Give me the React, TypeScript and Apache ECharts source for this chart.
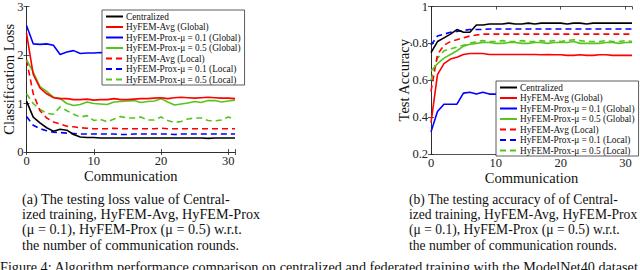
import React, { useEffect, useRef } from "react";
import * as echarts from "echarts";

const rounds = Array.from({ length: 32 }, (_, i) => i);

const seriesNames = [
  "Centralized",
  "HyFEM-Avg (Global)",
  "HyFEM-Prox-μ = 0.1 (Global)",
  "HyFEM-Prox-μ = 0.5 (Global)",
  "HyFEM-Avg (Local)",
  "HyFEM-Prox-μ = 0.1 (Local)",
  "HyFEM-Prox-μ = 0.5 (Local)",
];

const lossCentral = [1.05,0.72,0.6,0.5,0.43,0.47,0.45,0.36,0.31,0.3,0.3,0.29,0.29,0.29,0.29,0.29,0.29,0.29,0.29,0.29,0.29,0.29,0.29,0.29,0.29,0.29,0.29,0.28,0.29,0.29,0.29,0.29];
const lossAvgG = [2.45,1.6,1.32,1.2,1.12,1.1,1.1,1.08,1.08,1.09,1.07,1.08,1.08,1.1,1.08,1.08,1.09,1.1,1.1,1.11,1.12,1.1,1.12,1.13,1.12,1.11,1.12,1.13,1.12,1.11,1.11,1.1];
const lossProx01G = [2.61,2.23,2.22,2.23,2.2,2.01,2.06,2.09,2.03,2.04,2.04,2.05,2.03,2.04,2.03,2.02,2.03,2.02,2.03,2.02,2.02,2.01,2.02,2.01,2.02,2.01,2.01,2.0,2.01,2.0,2.0,2.0];
const lossProx05G = [1.9,1.65,1.35,1.25,1.13,1.1,1.0,0.96,0.98,1.03,1.0,0.99,0.98,1.03,1.04,1.05,1.06,1.02,1.04,1.05,1.1,1.03,0.97,0.99,1.01,1.04,1.02,1.06,1.06,1.03,1.05,1.07];
const lossAvgL = [1.9,1.2,0.85,0.7,0.62,0.58,0.53,0.52,0.5,0.49,0.48,0.48,0.48,0.49,0.48,0.48,0.48,0.48,0.48,0.48,0.49,0.48,0.48,0.48,0.48,0.48,0.48,0.48,0.48,0.48,0.48,0.48];
const lossProx01L = [0.73,0.55,0.48,0.44,0.41,0.4,0.39,0.38,0.37,0.37,0.37,0.37,0.37,0.37,0.36,0.36,0.37,0.37,0.37,0.37,0.37,0.37,0.36,0.37,0.37,0.37,0.37,0.37,0.37,0.37,0.37,0.37];
const lossProx05L = [1.2,1.0,0.88,0.8,0.78,0.93,0.85,0.78,0.72,0.75,0.65,0.67,0.62,0.68,0.73,0.7,0.7,0.72,0.66,0.66,0.72,0.65,0.61,0.63,0.68,0.7,0.7,0.65,0.64,0.66,0.72,0.68];

const accCentral = [0.75,0.81,0.83,0.85,0.875,0.86,0.86,0.9,0.9,0.905,0.905,0.905,0.91,0.905,0.905,0.91,0.905,0.91,0.91,0.91,0.91,0.905,0.91,0.91,0.905,0.91,0.91,0.91,0.91,0.91,0.91,0.91];
const accAvgG = [0.37,0.63,0.69,0.715,0.725,0.74,0.745,0.745,0.745,0.74,0.74,0.74,0.74,0.74,0.74,0.74,0.74,0.738,0.74,0.738,0.738,0.735,0.735,0.738,0.735,0.735,0.738,0.738,0.735,0.735,0.735,0.735];
const accProx01G = [0.32,0.43,0.47,0.47,0.47,0.53,0.535,0.525,0.535,0.525,0.525,0.53,0.53,0.535,0.535,0.535,0.535,0.54,0.54,0.54,0.54,0.54,0.54,0.54,0.545,0.545,0.545,0.545,0.545,0.545,0.545,0.545];
const accProx05G = [0.65,0.69,0.72,0.74,0.76,0.785,0.795,0.8,0.805,0.805,0.8,0.8,0.805,0.805,0.8,0.8,0.805,0.805,0.8,0.805,0.805,0.805,0.81,0.8,0.8,0.8,0.8,0.805,0.805,0.8,0.805,0.805];
const accAvgL = [0.54,0.74,0.79,0.81,0.82,0.83,0.84,0.845,0.85,0.85,0.85,0.85,0.85,0.85,0.85,0.85,0.85,0.85,0.85,0.85,0.85,0.85,0.85,0.85,0.85,0.85,0.85,0.85,0.85,0.85,0.85,0.85];
const accProx01L = [0.79,0.84,0.85,0.86,0.865,0.87,0.875,0.875,0.875,0.878,0.878,0.878,0.878,0.878,0.878,0.878,0.878,0.878,0.878,0.878,0.878,0.878,0.878,0.878,0.878,0.878,0.878,0.878,0.878,0.878,0.878,0.878];
const accProx05L = [0.6,0.72,0.76,0.77,0.78,0.79,0.8,0.81,0.815,0.81,0.81,0.815,0.81,0.81,0.815,0.81,0.81,0.815,0.81,0.815,0.81,0.815,0.82,0.815,0.81,0.81,0.81,0.815,0.81,0.81,0.815,0.81];

const lossTicks = [0, 1, 2, 3];
const accTicks = [0.2, 0.4, 0.6, 0.8, 1];
const roundTicks = [0, 10, 20, 30];

const captionA = [
  "(a) The testing loss value of Central-",
  "ized training, HyFEM-Avg, HyFEM-Prox",
  "(μ = 0.1), HyFEM-Prox (μ = 0.5) w.r.t.",
  "the number of communication rounds.",
];
const captionB = [
  "(b) The testing accuracy of of Central-",
  "ized training, HyFEM-Avg, HyFEM-Prox",
  "(μ = 0.1), HyFEM-Prox (μ = 0.5) w.r.t.",
  "the number of communication rounds.",
];
const figureCaption =
  "Figure 4: Algorithm performance comparison on centralized and federated training with the ModelNet40 dataset and 12 views.";

const colors = ["#000000", "#ff0000", "#0000ff", "#55c51e", "#ff0000", "#0000ff", "#55c51e"];
const dashed = [false, false, false, false, true, true, true];

const SERIF = "Liberation Serif";

export default function App() {
  const ref = useRef<HTMLDivElement>(null);
  useEffect(() => {
    if (!ref.current) return;
    const chart = echarts.init(ref.current, undefined, { renderer: "svg" });
    const lossData = [lossCentral, lossAvgG, lossProx01G, lossProx05G, lossAvgL, lossProx01L, lossProx05L];
    const accData = [accCentral, accAvgG, accProx01G, accProx05G, accAvgL, accProx01L, accProx05L];

    const mkSeries = (data: number[][], gi: number) =>
      data.map((arr, k) => ({
        type: "line",
        name: seriesNames[k],
        xAxisIndex: gi * 2,
        yAxisIndex: gi * 2,
        data: arr.map((v, i) => [rounds[i], v]),
        symbol: "none",
        z: 2 + (data.length - k) * 0.01,
        lineStyle: {
          color: colors[k],
          width: 1.6,
          type: dashed[k] ? [6, 4] : "solid",
        },
        itemStyle: { color: colors[k] },
      }));

    const axisLine = { show: true, lineStyle: { color: "#262626", width: 0.8 } };
    const tick = { show: true, inside: true, length: 3, lineStyle: { color: "#262626", width: 0.8 } };
    const labelStyle = { color: "#222", fontFamily: SERIF, fontSize: 12.5, lineHeight: 12 };

    const xAxes: any[] = [];
    const yAxes: any[] = [];
    [0, 1].forEach((gi) => {
      const isLoss = gi === 0;
      xAxes.push({
        type: "value",
        gridIndex: gi,
        min: 0,
        max: 31,
        interval: 10,
        position: "bottom",
        axisLine,
        axisTick: tick,
        splitLine: { show: false },
        axisLabel: { ...labelStyle, margin: 3, formatter: (v: number) => (roundTicks.includes(v) ? String(v) : "") },
        name: "Communication",
        nameLocation: "middle",
        nameGap: 17,
        nameMoveOverlap: false,
        nameTextStyle: { color: "#111", fontFamily: SERIF, fontSize: 14.5, lineHeight: 14 },
      });
      xAxes.push({
        type: "value",
        gridIndex: gi,
        min: 0,
        max: 31,
        interval: 10,
        position: "top",
        axisLine,
        axisTick: tick,
        splitLine: { show: false },
        axisLabel: { show: false },
      });
      yAxes.push({
        type: "value",
        gridIndex: gi,
        min: isLoss ? 0 : 0.2,
        max: isLoss ? 3 : 1,
        interval: isLoss ? 1 : 0.2,
        position: "left",
        axisLine,
        axisTick: tick,
        splitLine: { show: false },
        axisLabel: {
          ...labelStyle,
          margin: 3,
          formatter: (v: number) => {
            const ticks = isLoss ? lossTicks : accTicks;
            const m = ticks.find((t) => Math.abs(t - v) < 1e-6);
            return m === undefined ? "" : String(m);
          },
        },
        name: isLoss ? "Classification Loss" : "Test Accuracy",
        nameLocation: "middle",
        nameGap: isLoss ? 11 : 20,
        nameMoveOverlap: false,
        nameTextStyle: { color: "#111", fontFamily: SERIF, fontSize: 14.5, lineHeight: 14 },
      });
      yAxes.push({
        type: "value",
        gridIndex: gi,
        min: isLoss ? 0 : 0.2,
        max: isLoss ? 3 : 1,
        interval: isLoss ? 1 : 0.2,
        position: "right",
        axisLine,
        axisTick: tick,
        splitLine: { show: false },
        axisLabel: { show: false },
      });
    });

    const legendBase = {
      orient: "vertical",
      backgroundColor: "#ffffff",
      borderColor: "#333",
      borderWidth: 0.8,
      borderRadius: 0,
      padding: [2, 4, 1, 3],
      itemWidth: 17,
      itemHeight: 8,
      itemGap: 1.5,
      itemStyle: { opacity: 0 },
      textStyle: { fontFamily: SERIF, fontSize: 9.3, color: "#111", padding: [0, 0, 0, -2] },
      data: seriesNames,
      selectedMode: false,
    };

    const captionGraphics: any[] = [];
    const lineTops = [192, 207, 222, 238];
    captionA.forEach((t, i) =>
      captionGraphics.push({
        type: "text",
        left: 22,
        top: lineTops[i],
        style: { text: t, fontFamily: SERIF, fontSize: 14.2, fill: "#111" },
      })
    );
    captionB.forEach((t, i) =>
      captionGraphics.push({
        type: "text",
        left: 409,
        top: lineTops[i],
        style: { text: t, fontFamily: SERIF, fontSize: 13.6, fill: "#111" },
      })
    );
    captionGraphics.push({
      type: "text",
      left: 0,
      top: 260,
      style: { text: figureCaption, fontFamily: SERIF, fontSize: 14.2, fill: "#111" },
    });

    chart.setOption({
      animation: false,
      backgroundColor: "#ffffff",
      grid: [
        { left: 25, top: 5, width: 210, height: 147, containLabel: false },
        { left: 431, top: 5, width: 201, height: 149, containLabel: false },
      ],
      xAxis: xAxes,
      yAxis: yAxes,
      legend: [
        { ...legendBase, left: 102, top: 10 },
        { ...legendBase, left: 496, top: 81 },
      ],
      graphic: captionGraphics,
      series: [...mkSeries(lossData, 0), ...mkSeries(accData, 1)],
    });
    return () => chart.dispose();
  }, []);

  return (
    <div
      ref={ref}
      style={{ position: "fixed", left: 0, top: 0, width: 640, height: 270, background: "#fff" }}
    />
  );
}
